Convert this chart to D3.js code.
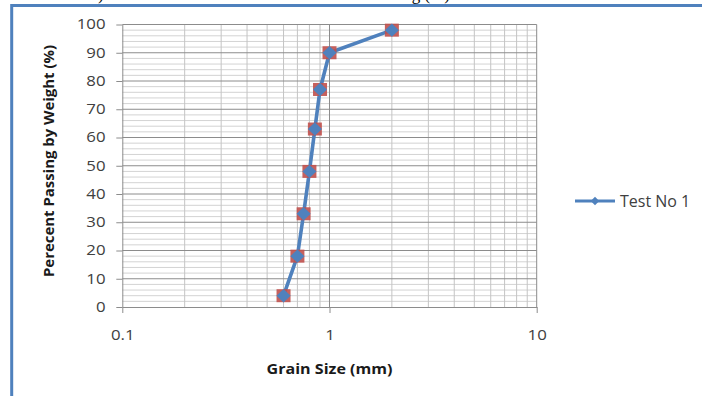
<!DOCTYPE html>
<html>
<head>
<meta charset="utf-8">
<script src="https://cdn.jsdelivr.net/npm/d3@7"></script>
<style>
  body { margin: 0; background: #fff; }
  svg { display: block; }
</style>
</head>
<body>
<svg id="chart" width="702" height="396"></svg>
<script>
// sieve analysis
const grainSize = [0.6, 0.7, 0.75, 0.8, 0.85, 0.9, 1, 2];
const passing = [4, 18, 33, 48, 63, 77, 90, 98];
const seriesName = 'Test No 1';
const xTickValues = [0.1, 1, 10];
const yTickValues = [0, 10, 20, 30, 40, 50, 60, 70, 80, 90, 100];

const svg = d3.select('#chart');
const blue = '#4F81BD';
const red = '#C0504D';
const labelColor = '#404040';
const font = '"Open Sans", "Noto Sans", sans-serif';

const plot = {left: 122.3, right: 536.7, top: 24.5, bottom: 307};

const x = d3.scaleLog().domain([0.1, 10]).range([plot.left, plot.right]);
const y = d3.scaleLinear().domain([0, 100]).range([plot.bottom, plot.top]);

// clipped caption text from the page above the chart
svg.append('text')
    .attr('x', 98).attr('y', 0)
    .style('font-family', '"Liberation Serif", serif')
    .style('font-size', '17px')
    .text(')');
svg.append('text')
    .attr('x', 450).attr('y', 0)
    .attr('text-anchor', 'end')
    .style('font-family', '"Liberation Serif", serif')
    .style('font-size', '17px')
    .text('ng (%)');

// chart frame (runs off the page right and bottom)
svg.append('rect')
    .attr('x', 11.7).attr('y', 5.5)
    .attr('width', 720).attr('height', 420)
    .attr('fill', 'none')
    .attr('stroke', blue)
    .attr('stroke-width', 3);

const grid = svg.append('g').attr('class', 'grid');

// minor horizontal gridlines every 2 %
const yMinor = d3.range(2, 100, 2).filter((v) => v % 10 !== 0);
grid.selectAll('.yMinor')
    .data(yMinor)
    .enter().append('line')
    .attr('class', 'yMinor')
    .attr('x1', plot.left).attr('x2', plot.right)
    .attr('y1', (d) => y(d)).attr('y2', (d) => y(d))
    .attr('stroke', '#d3d3d3')
    .attr('stroke-width', 1);

// minor vertical gridlines 2..9 in each decade
const xMinor = x.ticks().filter((v) => xTickValues.indexOf(v) < 0);
grid.selectAll('.xMinor')
    .data(xMinor)
    .enter().append('line')
    .attr('class', 'xMinor')
    .attr('x1', (d) => x(d)).attr('x2', (d) => x(d))
    .attr('y1', plot.top).attr('y2', plot.bottom)
    .attr('stroke', '#c4c4c4')
    .attr('stroke-width', 1);

// major gridlines
grid.selectAll('.yMajor')
    .data(yTickValues.filter((v) => v > 0))
    .enter().append('line')
    .attr('class', 'yMajor')
    .attr('x1', plot.left).attr('x2', plot.right)
    .attr('y1', (d) => y(d)).attr('y2', (d) => y(d))
    .attr('stroke', '#8c8c8c')
    .attr('stroke-width', 1);

grid.selectAll('.xMajor')
    .data(xTickValues.filter((v) => v > 0.1))
    .enter().append('line')
    .attr('class', 'xMajor')
    .attr('x1', (d) => x(d)).attr('x2', (d) => x(d))
    .attr('y1', plot.top).attr('y2', plot.bottom)
    .attr('stroke', '#8c8c8c')
    .attr('stroke-width', 1);

// axes
const yAxis = svg.append('g')
    .attr('transform', 'translate(' + plot.left + ',0)')
    .call(d3.axisLeft(y).tickValues(yTickValues).tickSize(6).tickPadding(8).tickSizeOuter(0));

const xAxis = svg.append('g')
    .attr('transform', 'translate(0,' + plot.bottom + ')')
    .call(d3.axisBottom(x).tickValues(xTickValues).tickFormat(d3.format('')).tickSize(6).tickPadding(17).tickSizeOuter(0));

[xAxis, yAxis].forEach(function(a) {
  a.selectAll('.domain, line').attr('stroke', '#8c8c8c');
  a.selectAll('text')
      .attr('fill', labelColor)
      .attr('transform', 'scale(1.2,1)') // the source picture is stretched sideways
      .style('font-family', font)
      .style('font-size', '14px');
});

// axis titles
svg.append('text')
    .attr('x', (plot.left + plot.right) / 2)
    .attr('y', 374)
    .attr('text-anchor', 'middle')
    .attr('textLength', 126)
    .attr('lengthAdjust', 'spacingAndGlyphs')
    .style('font-family', font)
    .style('font-size', '15px')
    .style('font-weight', 'bold')
    .attr('fill', '#1a1a1a')
    .text('Grain Size (mm)');

svg.append('text')
    .attr('transform', 'translate(54,161) rotate(-90)')
    .attr('text-anchor', 'middle')
    .attr('textLength', 232)
    .attr('lengthAdjust', 'spacingAndGlyphs')
    .style('font-family', font)
    .style('font-size', '14.5px')
    .style('font-weight', 'bold')
    .attr('fill', '#1a1a1a')
    .text('Perecent Passing by Weight (%)');

// series
const points = grainSize.map((g, i) => ({g: g, p: passing[i]}));

svg.append('path')
    .datum(points)
    .attr('fill', 'none')
    .attr('stroke', blue)
    .attr('stroke-width', 3.6)
    .attr('stroke-linejoin', 'round')
    .attr('d', d3.line().x((d) => x(d.g)).y((d) => y(d.p)));

const marks = svg.append('g').selectAll('.mark')
    .data(points)
    .enter().append('g')
    .attr('class', 'mark')
    .attr('transform', (d) => 'translate(' + x(d.g) + ',' + y(d.p) + ')');

marks.append('rect')
    .attr('x', -7).attr('y', -6.5)
    .attr('width', 14).attr('height', 13)
    .attr('fill', red)
    .attr('opacity', 0.9);

marks.append('path')
    .attr('d', d3.symbol(d3.symbolDiamond2, 115))
    .attr('transform', 'scale(1.05,1)')
    .attr('fill', blue);

// legend
const legend = svg.append('g').attr('transform', 'translate(575,201)');
legend.append('line')
    .attr('x1', 0).attr('x2', 40)
    .attr('stroke', blue)
    .attr('stroke-width', 3);
legend.append('path')
    .attr('transform', 'translate(20,0)')
    .attr('d', d3.symbol(d3.symbolDiamond2, 45))
    .attr('fill', blue);
legend.append('text')
    .attr('x', 45).attr('y', 6)
    .attr('fill', labelColor)
    .style('font-family', font)
    .style('font-size', '16px')
    .text(seriesName);
</script>
</body>
</html>
